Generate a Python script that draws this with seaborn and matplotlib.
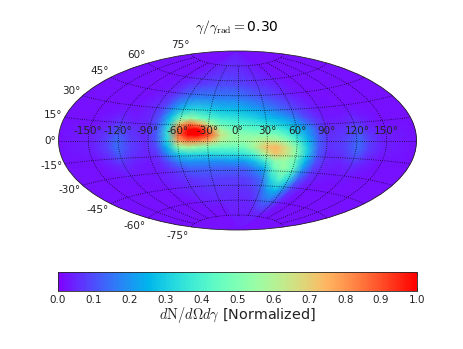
import numpy as np
import matplotlib
matplotlib.use('Agg')
import matplotlib.pyplot as plt
from matplotlib.transforms import Affine2D
import seaborn as sns

# Grid of the map, degrees
lon_deg = [-180, -146, -132, -122, -108, -93, -82, -71, -60, -50, -39, -28, -17, -6,
           6, 17, 28, 39, 50, 60, 71, 82, 93, 108, 122, 132, 146, 180]
lat_deg = [-90, -70, -60, -49, -38, -27, -20, -13, -6.5, 0, 5.5, 11, 16.5, 22, 31, 42, 55, 90]

# dN/dOmega dgamma, one list per latitude
lat_m90 = [.02, .02, .02, .02, .02, .02, .02, .02, .02, .02, .02, .02, .02, .02, .02, .02, .02, .02, .02, .02, .02, .02, .02, .02, .02, .02, .02, .02]
lat_m70 = [.02, .02, .02, .02, .02, .02, .02, .02, .02, .02, .02, .02, .04, .04, .04, .04, .04, .05, .06, .05, .03, .02, .02, .02, .02, .02, .02, .02]
lat_m60 = [.02, .02, .02, .02, .02, .02, .02, .02, .04, .04, .04, .05, .05, .05, .05, .05, .07, .12, .14, .10, .04, .02, .02, .02, .02, .02, .02, .02]
lat_m49 = [.02, .02, .02, .02, .02, .02, .03, .04, .05, .05, .06, .06, .06, .06, .06, .07, .10, .20, .26, .18, .07, .03, .02, .02, .02, .02, .02, .02]
lat_m38 = [.02, .02, .02, .02, .02, .03, .04, .05, .06, .07, .08, .08, .08, .08, .08, .10, .14, .32, .42, .32, .12, .05, .03, .02, .02, .02, .02, .02]
lat_m27 = [.02, .02, .03, .04, .03, .03, .04, .07, .10, .13, .13, .13, .13, .13, .13, .17, .24, .45, .55, .45, .20, .08, .04, .03, .04, .03, .02, .02]
lat_m20 = [.02, .02, .04, .06, .04, .03, .05, .11, .18, .20, .20, .20, .20, .22, .22, .28, .38, .52, .55, .45, .25, .10, .05, .04, .06, .04, .02, .02]
lat_m13 = [.02, .03, .06, .11, .06, .04, .07, .18, .30, .33, .33, .33, .34, .35, .36, .42, .60, .72, .65, .52, .30, .12, .05, .06, .11, .06, .03, .02]
lat_m6 = [.02, .04, .08, .14, .08, .05, .09, .25, .52, .58, .52, .48, .46, .46, .47, .58, .72, .75, .65, .50, .30, .12, .06, .08, .14, .08, .04, .02]
lat_0 = [.02, .04, .08, .14, .08, .05, .11, .32, .76, .85, .82, .74, .60, .55, .55, .58, .62, .60, .52, .40, .26, .12, .06, .08, .14, .08, .04, .02]
lat_5 = [.02, .04, .07, .12, .07, .05, .12, .34, .85, 1.0, 1.0, .88, .65, .55, .53, .52, .52, .50, .42, .33, .22, .11, .06, .07, .12, .07, .04, .02]
lat_11 = [.02, .03, .05, .09, .06, .05, .12, .34, .85, 1.0, 1.0, .82, .58, .48, .46, .43, .42, .40, .35, .28, .20, .10, .05, .06, .09, .05, .03, .02]
lat_16 = [.02, .02, .04, .06, .04, .05, .12, .30, .70, .85, .76, .58, .45, .42, .40, .38, .35, .32, .28, .22, .15, .08, .04, .04, .06, .04, .02, .02]
lat_22 = [.02, .02, .03, .04, .03, .05, .11, .27, .48, .55, .48, .42, .38, .36, .34, .32, .28, .26, .22, .17, .10, .06, .03, .03, .04, .03, .02, .02]
lat_31 = [.02, .02, .02, .02, .03, .05, .09, .19, .28, .32, .31, .29, .27, .27, .26, .23, .20, .17, .13, .10, .07, .04, .03, .02, .02, .02, .02, .02]
lat_42 = [.02, .02, .02, .02, .02, .04, .06, .11, .15, .17, .17, .17, .17, .17, .16, .14, .12, .10, .08, .06, .04, .03, .02, .02, .02, .02, .02, .02]
lat_55 = [.02, .02, .02, .02, .02, .03, .04, .06, .07, .08, .09, .10, .10, .10, .09, .08, .07, .06, .05, .04, .03, .02, .02, .02, .02, .02, .02, .02]
lat_90 = [.02, .02, .02, .02, .02, .02, .02, .02, .02, .02, .02, .02, .02, .02, .02, .02, .02, .02, .02, .02, .02, .02, .02, .02, .02, .02, .02, .02]

cbar_ticks = [0.0, 0.1, 0.2, 0.3, 0.4, 0.5, 0.6, 0.7, 0.8, 0.9, 1.0]

sns.set_style("white")
plt.rcParams['mathtext.fontset'] = 'cm'
plt.rcParams['font.family'] = ['DejaVu Sans']

values = np.array([lat_m90, lat_m70, lat_m60, lat_m49, lat_m38, lat_m27, lat_m20, lat_m13, lat_m6,
                   lat_0, lat_5, lat_11, lat_16, lat_22, lat_31, lat_42, lat_55, lat_90])
lon_rad = np.radians(lon_deg)
lat_rad = np.radians(lat_deg)

cmap = sns.color_palette("rainbow", as_cmap=True)

fig = plt.figure(figsize=(4.63, 3.49), dpi=100)
ax = fig.add_axes([58 / 463, 119 / 349, 359 / 463, 179 / 349], projection='aitoff')
ax.set_facecolor(cmap(0.02))
mesh = ax.pcolormesh(lon_rad, lat_rad, values, cmap=cmap, vmin=0, vmax=1, shading='gouraud', zorder=0)
ax.set_axisbelow(False)
ax.grid(True, linestyle=':', color='black', linewidth=0.6, alpha=0.8)
ax.tick_params(labelsize=7.5, labelcolor='#222222')
# latitude labels sit closer to the ellipse in the original
for t in ax.yaxis.get_major_ticks():
    t.label1.set_transform(t.label1.get_transform() + Affine2D().translate(6, 0))
for sp in ax.spines.values():
    sp.set_linewidth(0.6)
fig.text(237 / 463, 1 - 27 / 349, r'$\gamma/\gamma_{\rm rad}=$0.30', ha='center', va='center', fontsize=10, color='black')

cax = fig.add_axes([58 / 463, 58 / 349, 359 / 463, 19 / 349])
cb = fig.colorbar(mesh, cax=cax, orientation='horizontal', ticks=cbar_ticks)
cax.tick_params(axis='x', which='major', direction='in', top=True, bottom=True, length=3,
                width=0.5, labelsize=7.5, pad=3, labelcolor='#222222')
cb.outline.set_linewidth(0.6)
cb.set_label(r'$d{\rm N}/d\Omega d\gamma$ [Normalized]', fontsize=10.4, labelpad=0, color='#222222')

fig.savefig('out.png', dpi=100)
